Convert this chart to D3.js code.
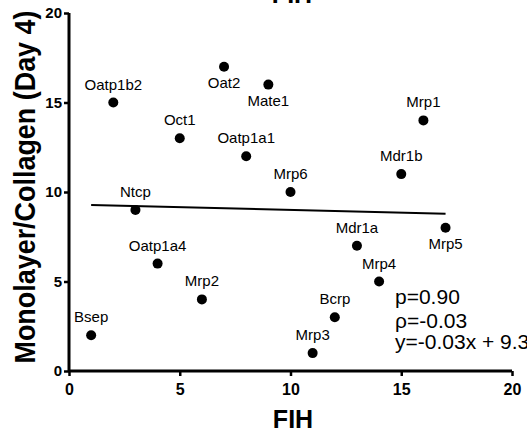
<!DOCTYPE html>
<html><head><meta charset="utf-8">
<script src="https://cdn.jsdelivr.net/npm/d3@7"></script>
<style>body{margin:0;background:#fff}svg{display:block}text{font-family:Arial,"Liberation Sans",Helvetica,sans-serif}</style>
</head><body>
<svg id="c" width="527" height="437"></svg>
<script>
const names = ["Bsep","Oatp1b2","Ntcp","Oatp1a4","Oct1","Mrp2","Oat2","Oatp1a1","Mate1","Mrp6","Mrp3","Bcrp","Mdr1a","Mrp4","Mdr1b","Mrp1","Mrp5"];
const fihRank = [1,2,3,4,5,6,7,8,9,10,11,12,13,14,15,16,17];
const monoRank = [2,15,9,6,13,4,17,12,16,10,1,3,7,5,11,14,8];
const labelBelow = ["Oat2","Mate1","Mrp5"];
const ticks = [0,5,10,15,20];
const fitSlope = -0.03, fitIntercept = 9.3;
const fitRange = [1,17];
const statLines = ["p=0.90","\u03C1=-0.03","y=-0.03x + 9.3"];

const svg = d3.select("#c");
const x = d3.scaleLinear().domain([0,20]).range([69,512]);
const y = d3.scaleLinear().domain([0,20]).range([371,13]);

// axes
const xa = svg.append("g").attr("transform","translate(0,371)")
  .call(d3.axisBottom(x).tickValues(ticks).tickSize(5).tickPadding(8));
const ya = svg.append("g").attr("transform","translate(69,0)")
  .call(d3.axisLeft(y).tickValues(ticks).tickSize(5).tickPadding(2));
[xa,ya].forEach(a=>{
  a.select(".domain").attr("stroke","#000").attr("stroke-width",3);
  a.selectAll(".tick line").attr("stroke","#000").attr("stroke-width",2.5);
  a.selectAll(".tick text").attr("font-weight","bold").attr("fill","#000")
   .attr("font-family","Arial,'Liberation Sans',sans-serif");
});
xa.selectAll(".tick text").attr("font-size",16);
ya.selectAll(".tick text").attr("font-size",15);
xa.select(".domain").attr("d","M"+x(0)+",0H"+x(20));
ya.select(".domain").attr("d","M0,"+y(0)+"V"+y(20));

// fit line
svg.append("line")
  .attr("x1",x(fitRange[0])).attr("y1",y(fitSlope*fitRange[0]+fitIntercept))
  .attr("x2",x(fitRange[1])).attr("y2",y(fitSlope*fitRange[1]+fitIntercept))
  .attr("stroke","#000").attr("stroke-width",2);

// points
const data = names.map((n,i)=>({n, fx:fihRank[i], my:monoRank[i]}));
svg.selectAll("circle.pt").data(data).enter().append("circle")
  .attr("cx",d=>x(d.fx)).attr("cy",d=>y(d.my)).attr("r",5).attr("fill","#000");
svg.selectAll("text.lbl").data(data).enter().append("text")
  .attr("x",d=>x(d.fx)).attr("y",d=>y(d.my)+(labelBelow.includes(d.n)?21:-13))
  .attr("text-anchor","middle").attr("font-size",15).attr("fill","#000").text(d=>d.n);

// stats
statLines.forEach((s,i)=>{
  svg.append("text").attr("x",395).attr("y",[304,328,349][i])
    .attr("font-size",21).attr("fill","#000").text(s);
});

// titles
svg.append("text").attr("x",292).attr("y",3).attr("text-anchor","middle")
  .attr("font-size",25).attr("font-weight","bold").text("FIH");
svg.append("text").attr("x",293).attr("y",428).attr("text-anchor","middle")
  .attr("font-size",25).attr("font-weight","bold").text("FIH");
svg.append("text").attr("transform","translate(35,187) rotate(-90)").attr("text-anchor","middle")
  .attr("font-size",29).attr("font-weight","bold")
  .attr("textLength",353).attr("lengthAdjust","spacingAndGlyphs")
  .text("Monolayer/Collagen (Day 4)");
</script>
</body></html>
